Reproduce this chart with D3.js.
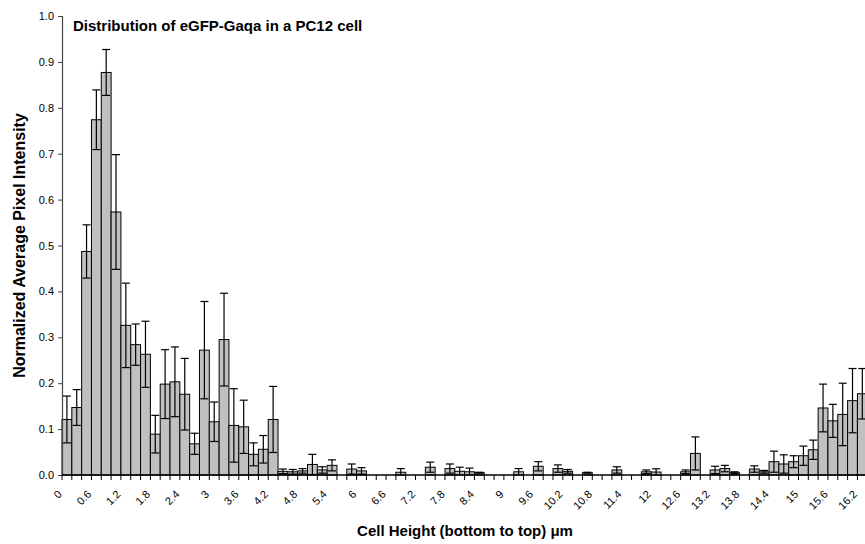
<!DOCTYPE html>
<html>
<head>
<meta charset="utf-8">
<script src="https://cdn.jsdelivr.net/npm/d3@7"></script>
<style>
  html, body { margin: 0; padding: 0; background: #fff; }
  svg { display: block; }
  text { font-family: Arial, "Liberation Sans", sans-serif; fill: #000; }
</style>
</head>
<body>
<svg id="chart" width="865" height="544"></svg>
<script>
// Cell height slices (µm), bottom to top
const categories = [
  "0","0.2","0.4","0.6","0.8","1","1.2","1.4","1.6","1.8",
  "2","2.2","2.4","2.6","2.8","3","3.2","3.4","3.6","3.8",
  "4","4.2","4.4","4.6","4.8","5","5.2","5.4","5.6","5.8",
  "6","6.2","6.4","6.6","6.8","7","7.2","7.4","7.6","7.8",
  "8","8.2","8.4","8.6","8.8","9","9.2","9.4","9.6","9.8",
  "10","10.2","10.4","10.6","10.8","11","11.2","11.4","11.6","11.8",
  "12","12.2","12.4","12.6","12.8","13","13.2","13.4","13.6","13.8",
  "14","14.2","14.4","14.6","14.8","15","15.2","15.4","15.6","15.8",
  "16","16.2"
];

// Normalized average pixel intensity per slice
const means = [
  0.121, 0.147, 0.487, 0.774, 0.877, 0.573, 0.326, 0.284, 0.263, 0.089,
  0.198, 0.203, 0.176, 0.068, 0.272, 0.116, 0.295, 0.108, 0.105, 0.045,
  0.056, 0.121, 0.008, 0.007, 0.009, 0.023, 0.011, 0.021, 0,     0.013,
  0.009, 0,     0,     0,     0.006, 0,     0,     0.017, 0,     0.014,
  0.008, 0.007, 0.005, 0,     0,     0,     0.007, 0,     0.019, 0,
  0.014, 0.008, 0,     0.005, 0,     0,     0.011, 0,     0,     0.007,
  0.0065,0,     0,     0.007, 0.047, 0,     0.011, 0.014, 0.005, 0,
  0.013, 0.007, 0.029, 0.024, 0.029, 0.042, 0.055, 0.146, 0.118, 0.132,
  0.162, 0.177
];

// Error (± deviation) per slice
const errors = [
  0.051, 0.039, 0.058, 0.065, 0.050, 0.125, 0.092, 0.045, 0.072, 0.041,
  0.075, 0.076, 0.078, 0.023, 0.106, 0.043, 0.101, 0.080, 0.058, 0.025,
  0.030, 0.072, 0.005, 0.005, 0.005, 0.022, 0.007, 0.012, 0,     0.011,
  0.007, 0,     0,     0,     0.008, 0,     0,     0.011, 0,     0.010,
  0.009, 0.008, 0.001, 0,     0,     0,     0.007, 0,     0.010, 0,
  0.008, 0.004, 0,     0.001, 0,     0,     0.007, 0,     0,     0.004,
  0.007, 0,     0,     0.004, 0.036, 0,     0.008, 0.007, 0.002, 0,
  0.007, 0.003, 0.023, 0.020, 0.013, 0.021, 0.021, 0.052, 0.036, 0.068,
  0.070, 0.055
];

// Labelled categories along the x axis
const xTickLabels = [
  "0","0.6","1.2","1.8","2.4","3","3.6","4.2","4.8","5.4",
  "6","6.6","7.2","7.8","8.4","9","9.6","10.2","10.8","11.4",
  "12","12.6","13.2","13.8","14.4","15","15.6","16.2"
];

const yTicks = [0, 0.1, 0.2, 0.3, 0.4, 0.5, 0.6, 0.7, 0.8, 0.9, 1.0];

const chartTitle = "Distribution of eGFP-Gaqa in a PC12 cell";
const xTitle = "Cell Height (bottom to top) \u03bcm";
const yTitle = "Normalized Average Pixel Intensity";

const svg = d3.select("#chart");

const plotLeft = 62, plotTop = 16, plotBottom = 475;
const bandWidth = 9.82;

const x = d3.scaleBand()
  .domain(categories)
  .range([plotLeft, plotLeft + categories.length * bandWidth])
  .padding(0);

const y = d3.scaleLinear().domain([0, 1]).range([plotBottom, plotTop]);

const data = categories.map((c, i) => ({ c, v: means[i], e: errors[i] }));

// Bars
svg.append("g")
  .selectAll("rect")
  .data(data.filter(d => d.v > 0))
  .join("rect")
  .attr("x", d => x(d.c))
  .attr("y", d => y(d.v))
  .attr("width", x.bandwidth())
  .attr("height", d => y(0) - y(d.v))
  .attr("fill", "#c0c0c0")
  .attr("stroke", "#000")
  .attr("stroke-width", 1);

// Error bars (symmetric, capped)
const capHalf = 4;
const eb = svg.append("g")
  .selectAll("g")
  .data(data.filter(d => d.e > 0))
  .join("g")
  .attr("stroke", "#000")
  .attr("stroke-width", 1.2);
eb.append("line")
  .attr("x1", d => x(d.c) + x.bandwidth() / 2)
  .attr("x2", d => x(d.c) + x.bandwidth() / 2)
  .attr("y1", d => y(Math.max(0, d.v - d.e)))
  .attr("y2", d => y(d.v + d.e));
eb.append("line")
  .attr("x1", d => x(d.c) + x.bandwidth() / 2 - capHalf)
  .attr("x2", d => x(d.c) + x.bandwidth() / 2 + capHalf)
  .attr("y1", d => y(d.v + d.e))
  .attr("y2", d => y(d.v + d.e));
eb.filter(d => d.v - d.e > 0).append("line")
  .attr("x1", d => x(d.c) + x.bandwidth() / 2 - capHalf)
  .attr("x2", d => x(d.c) + x.bandwidth() / 2 + capHalf)
  .attr("y1", d => y(d.v - d.e))
  .attr("y2", d => y(d.v - d.e));

// Y axis
const yAxis = svg.append("g")
  .attr("transform", `translate(${plotLeft},0)`)
  .call(d3.axisLeft(y).tickValues(yTicks).tickFormat(d3.format(".1f")).tickSize(4).tickPadding(4));
yAxis.select(".domain").attr("stroke", "#444").attr("stroke-width", 1.2);
yAxis.selectAll(".tick line").attr("stroke", "#444");
yAxis.selectAll("text").attr("font-size", 11).attr("font-family", "Arial, 'Liberation Sans', sans-serif").attr("fill", "#000");

// X axis: line, tick marks between categories, rotated labels
const xAxis = svg.append("g");
const xEnd = x.range()[1];
xAxis.append("line")
  .attr("x1", plotLeft).attr("x2", xEnd)
  .attr("y1", plotBottom).attr("y2", plotBottom)
  .attr("stroke", "#000").attr("stroke-width", 1.5);
xAxis.selectAll("line.tick")
  .data(categories)
  .join("line")
  .attr("class", "tick")
  .attr("x1", d => x(d)).attr("x2", d => x(d))
  .attr("y1", plotBottom).attr("y2", plotBottom + 5)
  .attr("stroke", "#000").attr("stroke-width", 1);
xAxis.selectAll("text")
  .data(xTickLabels)
  .join("text")
  .attr("transform", d => `translate(${x(d) + 0.5},${plotBottom + 20}) rotate(-45)`)
  .attr("text-anchor", "end")
  .attr("font-size", 11)
  .text(d => d);

// Titles
svg.append("text")
  .attr("x", 73).attr("y", 31)
  .attr("font-size", 15).attr("font-weight", "bold")
  .text(chartTitle);

svg.append("text")
  .attr("x", 465).attr("y", 536)
  .attr("text-anchor", "middle")
  .attr("font-size", 15).attr("font-weight", "bold")
  .text(xTitle);

svg.append("text")
  .attr("transform", `translate(25,${(plotTop + plotBottom) / 2}) rotate(-90)`)
  .attr("text-anchor", "middle")
  .attr("font-size", 16).attr("font-weight", "bold")
  .text(yTitle);
</script>
</body>
</html>
